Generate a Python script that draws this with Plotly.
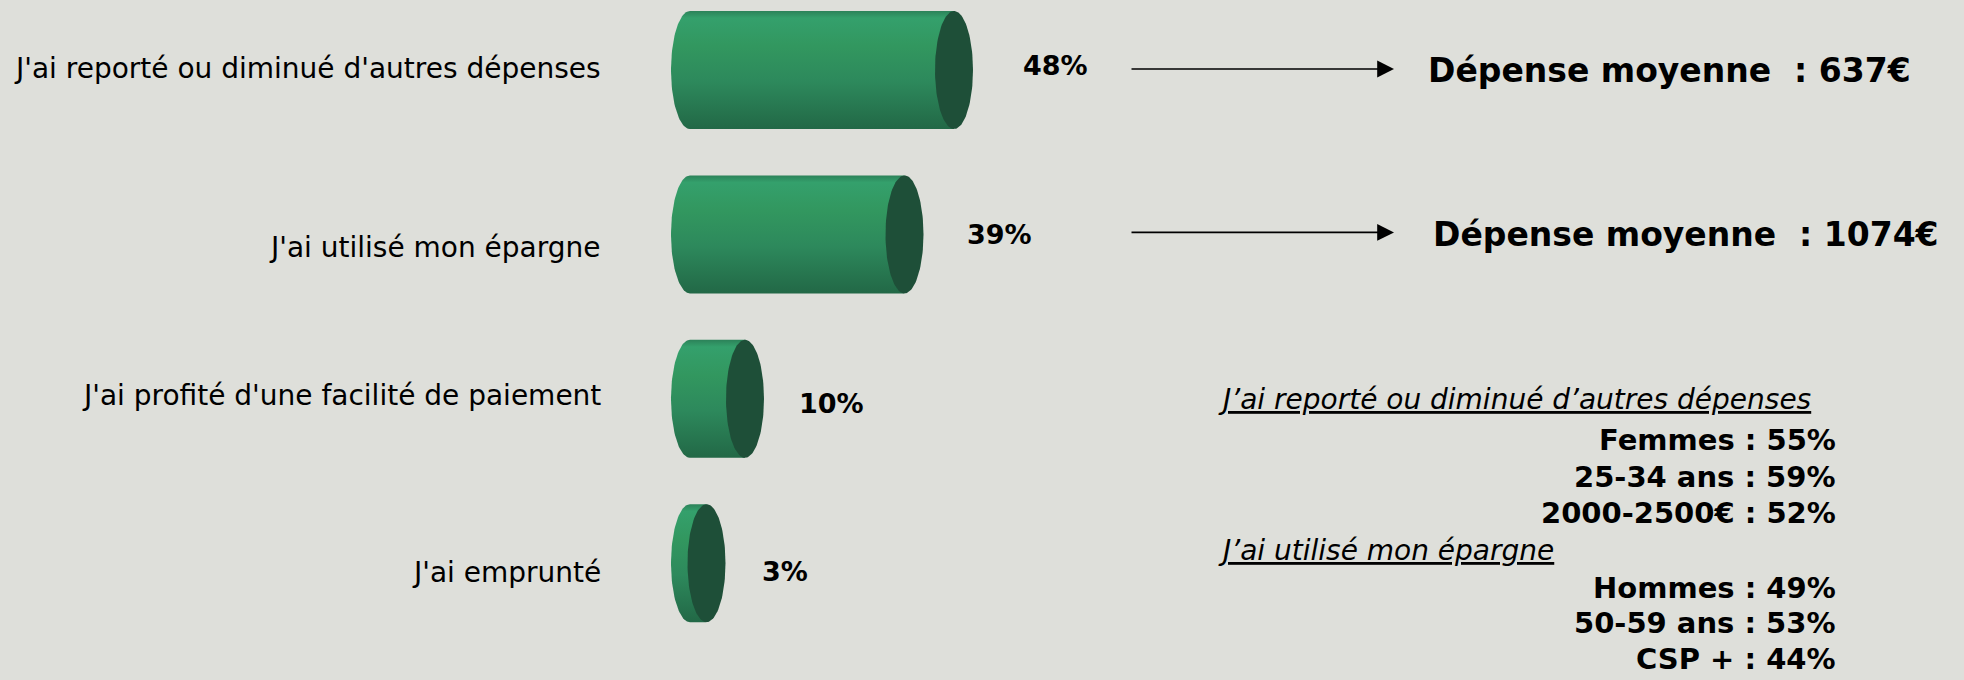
import numpy as np
import plotly.graph_objects as go

# ---------------- data ----------------
categories = [
    "J'ai reporté ou diminué d'autres dépenses",
    "J'ai utilisé mon épargne",
    "J'ai profité d'une facilité de paiement",
    "J'ai emprunté",
]
values = [48, 39, 10, 3]
value_labels = ["48%", "39%", "10%", "3%"]

avg_spend_labels = ["Dépense moyenne \u00a0: 637€", "Dépense moyenne \u00a0: 1074€"]

detail_heading_1 = "J’ai reporté ou diminué d’autres dépenses"
detail_lines_1 = ["Femmes : 55%", "25-34 ans : 59%", "2000-2500€ : 52%"]
detail_heading_2 = "J’ai utilisé mon épargne"
detail_lines_2 = ["Hommes : 49%", "50-59 ans : 53%", "CSP + : 44%"]

# ---------------- layout / style constants ----------------
W, H = 1964, 680
PX_PER_UNIT = 5.5
ZERO_PX = 690
ROW_PX = 164.4
FIRST_ROW_PX = 70
HALF = 59 / ROW_PX           # half thickness of a cylinder (y units)
RX = 19 / PX_PER_UNIT        # horizontal radius of the elliptical ends (x units)

BG = "#DEDFDA"
CAP = "#1E4F38"
BODY_SCALE = [[0, "#2C8259"], [0.06, "#34A06C"], [0.3, "#32975F"],
              [0.6, "#2D895C"], [1, "#226846"]]
FONT = "DejaVu Sans"

X_RANGE = [-ZERO_PX / PX_PER_UNIT, (W - ZERO_PX) / PX_PER_UNIT]
Y_RANGE = [(H - FIRST_ROW_PX) / ROW_PX, -FIRST_ROW_PX / ROW_PX]

CAT_YSHIFT = [2, -13, 3, -9]
VAL_XSHIFT = [67, 60, 52, 53]
VAL_YSHIFT = [5, 0, -5, -8]

fig = go.Figure()

# cylinders
for i, v in enumerate(values):
    th_left = np.linspace(np.pi / 2, 3 * np.pi / 2, 60)
    xs = list(RX * np.cos(th_left)) + [v, v]
    ys = list(i - HALF * np.sin(th_left)) + [i + HALF, i - HALF]
    xs.append(xs[0]); ys.append(ys[0])
    fig.add_trace(go.Scatter(
        x=xs, y=ys, mode="lines", fill="toself",
        line=dict(width=0, color=BODY_SCALE[2][1]),
        fillgradient=dict(type="vertical", colorscale=BODY_SCALE,
                          start=i - HALF, stop=i + HALF),
        hoverinfo="skip", showlegend=False,
    ))
    th = np.linspace(0, 2 * np.pi, 120)
    fig.add_trace(go.Scatter(
        x=v + RX * np.cos(th), y=i + HALF * np.sin(th), mode="lines",
        fill="toself", fillcolor=CAP, line=dict(width=0, color=CAP),
        hoverinfo="skip", showlegend=False,
    ))

annotations = []
# category labels
for i, c in enumerate(categories):
    annotations.append(dict(
        x=603 / W, xref="paper", y=i, yref="y", yshift=CAT_YSHIFT[i],
        text=c, showarrow=False, xanchor="right", yanchor="middle",
        font=dict(family=FONT, size=28, color="black")))
# value labels
for i, (v, t) in enumerate(zip(values, value_labels)):
    annotations.append(dict(
        x=v, xref="x", y=i, yref="y", xshift=VAL_XSHIFT[i], yshift=VAL_YSHIFT[i],
        text=t, showarrow=False, xanchor="left", yanchor="middle",
        font=dict(family=FONT, size=27, color="black", weight="bold")))
# arrows + average spend
for i, t in enumerate(avg_spend_labels):
    annotations.append(dict(
        x=1394 / W, xref="paper", y=i, yref="y", yshift=1 + i, text="",
        showarrow=True, ax=-264, ay=0, arrowhead=2, arrowsize=2.1,
        arrowwidth=1.6, arrowcolor="black", standoff=0, startstandoff=0))
    annotations.append(dict(
        x=(1426 + 5 * i) / W, xref="paper", y=i, yref="y", yshift=0,
        text=t, showarrow=False, xanchor="left", yanchor="middle",
        font=dict(family=FONT, size=33, color="black", weight="bold")))

# detail block
rows_px = [399, 440, 477, 513, 550, 588, 623, 659]
block = [(detail_heading_1, True)] + [(t, False) for t in detail_lines_1] + \
        [(detail_heading_2, True)] + [(t, False) for t in detail_lines_2]
for (t, is_head), ypx in zip(block, rows_px):
    if is_head:
        annotations.append(dict(
            x=1216 / W, xref="paper", y=1 - ypx / H, yref="paper", text=t,
            showarrow=False, xanchor="left", yanchor="middle",
            font=dict(family=FONT, size=28, color="black", style="italic",
                      lineposition="under")))
    else:
        annotations.append(dict(
            x=1838 / W, xref="paper", y=1 - ypx / H, yref="paper", text=t,
            showarrow=False, xanchor="right", yanchor="middle",
            font=dict(family=FONT, size=29, color="black", weight="bold")))

fig.update_layout(
    width=W, height=H, margin=dict(l=0, r=0, t=0, b=0),
    paper_bgcolor=BG, plot_bgcolor=BG,
    xaxis=dict(range=X_RANGE, visible=False, fixedrange=True),
    yaxis=dict(range=Y_RANGE, visible=False, fixedrange=True),
    annotations=annotations, showlegend=False,
)

fig.write_html("out.html")
